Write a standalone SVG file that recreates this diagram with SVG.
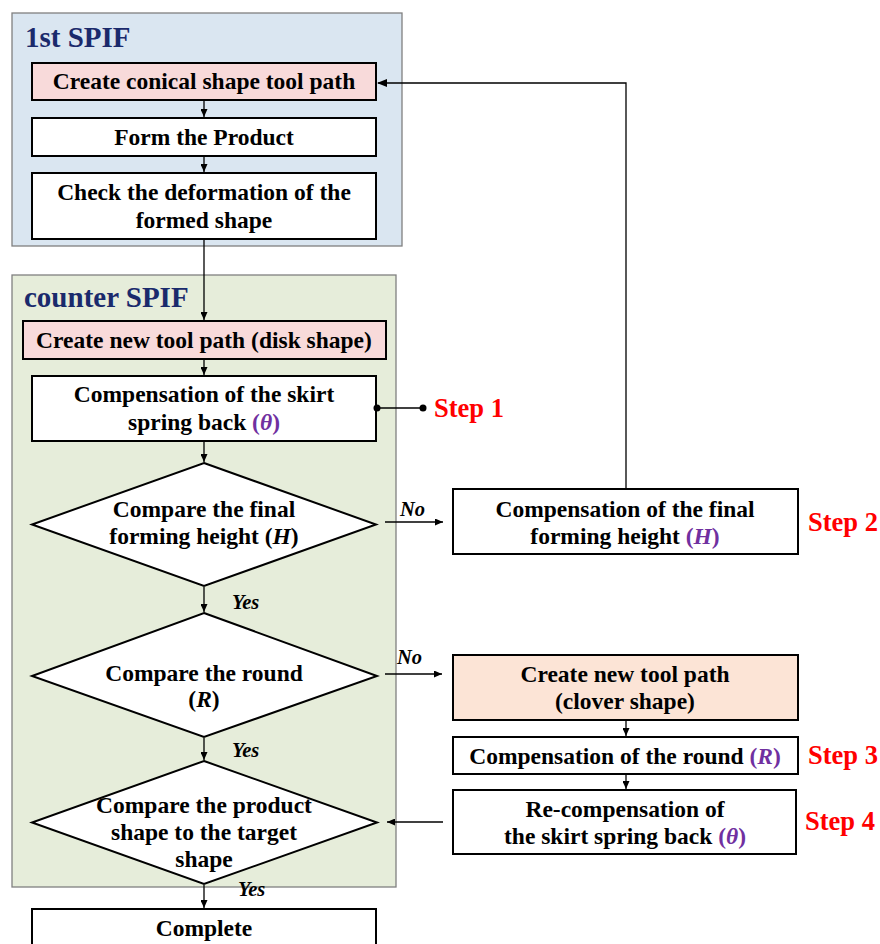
<svg xmlns="http://www.w3.org/2000/svg" width="880" height="944" viewBox="0 0 880 944">
<defs>
<marker id="ah" markerWidth="10" markerHeight="8" refX="9" refY="4" orient="auto" markerUnits="userSpaceOnUse">
<path d="M0,0 L10,4 L0,8 Z" fill="#000"/>
</marker>
<marker id="ahs" markerWidth="8" markerHeight="7" refX="8" refY="3.5" orient="auto" markerUnits="userSpaceOnUse">
<path d="M0,0 L8,3.5 L0,7 Z" fill="#000"/>
</marker>
<marker id="dot" markerWidth="8" markerHeight="8" refX="4" refY="4" markerUnits="userSpaceOnUse">
<circle cx="4" cy="4" r="3.5" fill="#000"/>
</marker>
</defs>
<style>
.t{font-family:"Liberation Serif","Times New Roman",serif;font-weight:bold;font-size:23.5px;fill:#000;text-anchor:middle}
.g{font-family:"Liberation Serif","Times New Roman",serif;font-weight:bold;font-size:29px;fill:#1a2a6c}
.s{font-family:"Liberation Serif","Times New Roman",serif;font-weight:bold;font-size:26.5px;fill:#ff0000}
.yn{font-family:"Liberation Serif","Times New Roman",serif;font-weight:bold;font-style:italic;font-size:20.5px;fill:#000}
.p{fill:#7030a0}
.i{font-style:italic}
.box{stroke:#000;stroke-width:2}
.w{fill:#fff}
.pk{fill:#f8dada}
.pc{fill:#fce4d6}
.c{fill:none;stroke:#000;stroke-width:1.3}
</style>
<g id="group-1st">
<rect x="12" y="13" width="390" height="233" fill="#dae6f1" stroke="#808080" stroke-width="1.3"/>
<text class="g" x="25" y="47">1st SPIF</text>
</g>
<g id="group-counter">
<rect x="12" y="275" width="384" height="612" fill="#e6edda" stroke="#808080" stroke-width="1.3"/>
<text class="g" x="24" y="307">counter SPIF</text>
</g>
<g id="n1"><rect class="box pk" x="32" y="63" width="344" height="37"/><text class="t" x="204" y="89">Create conical shape tool path</text></g>
<g id="n2"><rect class="box w" x="32" y="118" width="344" height="38"/><text class="t" x="204" y="145">Form the Product</text></g>
<g id="n3"><rect class="box w" x="32" y="173" width="344" height="66"/><text class="t" x="204" y="200">Check the deformation of the</text><text class="t" x="204" y="228">formed shape</text></g>
<g id="n4"><rect class="box pk" x="23" y="321" width="363" height="38"/><text class="t" x="204" y="348">Create new tool path (disk shape)</text></g>
<g id="n5"><rect class="box w" x="32" y="376" width="344" height="65"/><text class="t" x="204" y="402">Compensation of the skirt</text><text class="t" x="204" y="430">spring back <tspan class="p">(<tspan class="i">θ</tspan>)</tspan></text></g>
<g id="d1"><polygon class="box w" points="204,463 376,524.5 204,586 32,524.5"/><text class="t" x="204" y="517">Compare the final</text><text class="t" x="204" y="544">forming height (<tspan class="i">H</tspan>)</text></g>
<g id="n6"><rect class="box w" x="453" y="489" width="345" height="65"/><text class="t" x="625" y="517">Compensation of the final</text><text class="t" x="625" y="544">forming height <tspan class="p">(<tspan class="i">H</tspan>)</tspan></text></g>
<g id="d2"><polygon class="box w" points="204,613 377,676 204,737 32,676"/><text class="t" x="204" y="681">Compare the round</text><text class="t" x="204" y="707">(<tspan class="i">R</tspan>)</text></g>
<g id="n7"><rect class="box pc" x="453" y="655" width="345" height="65"/><text class="t" x="625" y="682">Create new tool path</text><text class="t" x="625" y="709">(clover shape)</text></g>
<g id="n8"><rect class="box w" x="453" y="737" width="345" height="37"/><text class="t" x="625" y="764">Compensation of the round <tspan class="p">(<tspan class="i">R</tspan>)</tspan></text></g>
<g id="n9"><rect class="box w" x="453" y="790" width="343" height="64"/><text class="t" x="625" y="817">Re-compensation of</text><text class="t" x="625" y="844">the skirt spring back <tspan class="p">(<tspan class="i">θ</tspan>)</tspan></text></g>
<g id="d3"><polygon class="box w" points="204,761 377,822.5 204,884 32,822.5"/><text class="t" x="204" y="813">Compare the product</text><text class="t" x="204" y="840">shape to the target</text><text class="t" x="204" y="867">shape</text></g>
<g id="n10"><rect class="box w" x="32" y="909" width="344" height="45"/><text class="t" x="204" y="936">Complete</text></g>
<g id="steps">
<text class="s" x="434" y="417">Step 1</text>
<text class="s" x="808" y="531">Step 2</text>
<text class="s" x="808" y="764">Step 3</text>
<text class="s" x="805" y="830">Step 4</text>
</g>
<g id="connectors">
<line class="c" x1="204" y1="101" x2="204" y2="117" marker-end="url(#ahs)"/>
<line class="c" x1="204" y1="157" x2="204" y2="172" marker-end="url(#ahs)"/>
<line class="c" x1="204" y1="240" x2="204" y2="320" marker-end="url(#ahs)"/>
<line class="c" x1="204" y1="360" x2="204" y2="375" marker-end="url(#ahs)"/>
<line class="c" x1="204" y1="442" x2="204" y2="462" marker-end="url(#ahs)"/>
<line class="c" x1="377" y1="408" x2="423" y2="408" marker-start="url(#dot)" marker-end="url(#dot)"/>
<line class="c" x1="385" y1="522" x2="443" y2="522" marker-end="url(#ahs)"/>
<text class="yn" x="400" y="516">No</text>
<polyline class="c" points="626,488 626,83 378,83" marker-end="url(#ah)"/>
<line class="c" x1="204" y1="587" x2="204" y2="612" marker-end="url(#ahs)"/>
<text class="yn" x="232" y="609">Yes</text>
<line class="c" x1="385" y1="674" x2="442" y2="674" marker-end="url(#ahs)"/>
<text class="yn" x="397" y="664">No</text>
<line class="c" x1="626" y1="721" x2="626" y2="736" marker-end="url(#ahs)"/>
<line class="c" x1="626" y1="775" x2="626" y2="789" marker-end="url(#ahs)"/>
<line class="c" x1="204" y1="738" x2="204" y2="760" marker-end="url(#ahs)"/>
<text class="yn" x="232" y="757">Yes</text>
<line class="c" x1="443" y1="822" x2="387" y2="822" marker-end="url(#ahs)"/>
<line class="c" x1="204" y1="885" x2="204" y2="908" marker-end="url(#ahs)"/>
<text class="yn" x="238" y="896">Yes</text>
</g>
</svg>
